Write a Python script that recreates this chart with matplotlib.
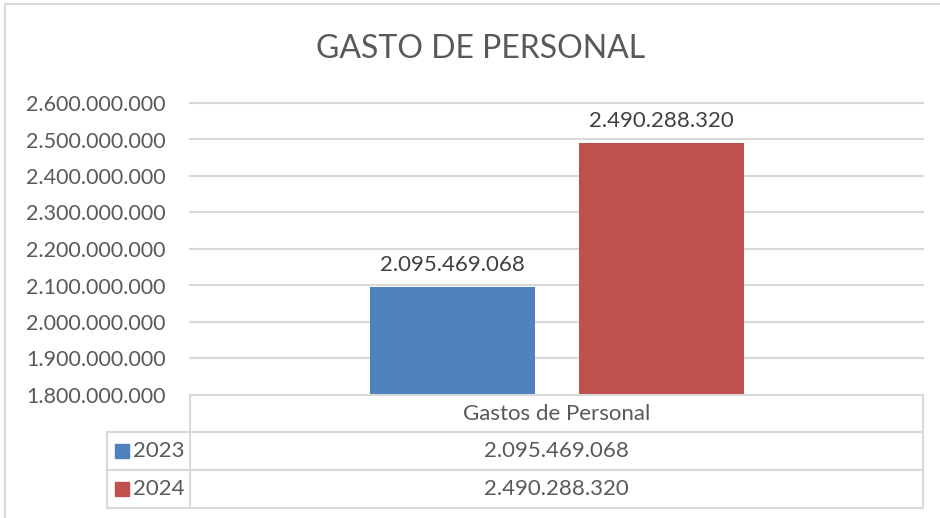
import matplotlib.pyplot as plt
from matplotlib.lines import Line2D
from matplotlib.patches import Rectangle

years = ['2023', '2024']
values = [2095469068, 2490288320]
colors = ['#4F81BD', '#C0504D']
category = 'Gastos de Personal'
title = 'GASTO DE PERSONAL'
y_ticks = [1800000000 + i * 100000000 for i in range(9)]

W, H = 940, 518
GRID = '#D9D9D9'
TXT = '#595959'

plt.rcParams['font.family'] = ['Lato', 'DejaVu Sans']


def fmt(v):
    return f'{v:,.0f}'.replace(',', '.')


def fx(px):
    return px / W


def fy(py):
    return 1 - py / H


fig = plt.figure(figsize=(W / 100, H / 100), dpi=100)

# plot area in pixels: x 190..923, y 103..395
ax = fig.add_axes([fx(190), fy(395), fx(923) - fx(190), fy(103) - fy(395)])
ax.set_xlim(-0.5, 0.5)
ax.set_ylim(y_ticks[0], y_ticks[-1])
ax.set_yticks(y_ticks)
ax.set_yticklabels([fmt(t) for t in y_ticks], fontsize=15.5, color=TXT)
ax.tick_params(axis='y', length=0, pad=17.5)
ax.set_xticks([])
for s in ax.spines.values():
    s.set_visible(False)
for t in y_ticks:
    ax.axhline(t, color=GRID, lw=1.5, zorder=0, clip_on=False)

offsets = [-0.1414, 0.1428]
width = 0.2254
for off, v, c in zip(offsets, values, colors):
    ax.bar(off, v - y_ticks[0], bottom=y_ticks[0], width=width, color=c, zorder=2)
    ax.annotate(fmt(v), (off, v), xytext=(0, 9), textcoords='offset points',
                ha='center', va='bottom', fontsize=16, color='#404040')

fig.text(fx(481), fy(49), title, ha='center', va='center', fontsize=23,
         color=TXT)

# outer chart border
fig.add_artist(Rectangle((fx(5), fy(530)), fx(960) - fx(5), fy(4) - fy(530),
                         transform=fig.transFigure, fill=False, ec=GRID, lw=1.5))

# data table
rows = [395, 432, 470, 508]
x_left, x_mid, x_right = 107, 190, 923


def hline(py, x0, x1):
    fig.add_artist(Line2D([fx(x0), fx(x1)], [fy(py), fy(py)],
                          transform=fig.transFigure, color=GRID, lw=1.5))


def vline(px, y0, y1):
    fig.add_artist(Line2D([fx(px), fx(px)], [fy(y0), fy(y1)],
                          transform=fig.transFigure, color=GRID, lw=1.5))


hline(rows[0], x_mid, x_right)
for r in rows[1:]:
    hline(r, x_left, x_right)
vline(x_mid, rows[0], rows[-1])
vline(x_right, rows[0], rows[-1])
vline(x_left, rows[1], rows[-1])

xc = (x_mid + x_right) / 2
fig.text(fx(xc), fy((rows[0] + rows[1]) / 2), category, ha='center',
         va='center', fontsize=16, color=TXT)
for i, (yr, v, c) in enumerate(zip(years, values, colors)):
    yc = (rows[i + 1] + rows[i + 2]) / 2
    fig.add_artist(Rectangle((fx(115), fy(yc + 7)), fx(14), fy(0) - fy(14),
                             transform=fig.transFigure, color=c))
    fig.text(fx(133), fy(yc), yr, ha='left', va='center', fontsize=16, color=TXT)
    fig.text(fx(xc), fy(yc), fmt(v), ha='center', va='center', fontsize=16,
             color=TXT)

fig.savefig('out.png', dpi=100)
